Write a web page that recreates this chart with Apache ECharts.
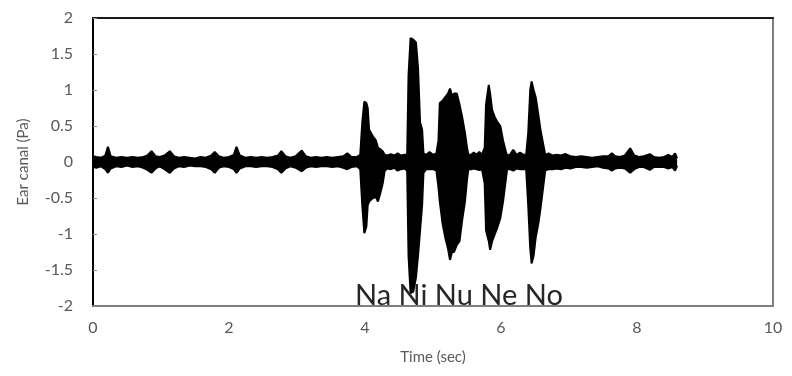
<!DOCTYPE html>
<html>
<head>
<meta charset="utf-8">
<script src="https://cdn.jsdelivr.net/npm/echarts@6/dist/echarts.min.js"></script>
<style>
html, body { margin: 0; padding: 0; background: #fff; }
#earCanal { width: 792px; height: 376px; }
</style>
</head>
<body>
<div id="earCanal"></div>
<script>
var timeSec = [
  0.00, 0.05, 0.12, 0.18, 0.22, 0.26, 0.34, 0.42, 0.50, 0.58, 0.66, 0.74, 0.80, 0.86, 0.92, 0.98,
  1.05, 1.13, 1.19, 1.26, 1.34, 1.42, 1.50, 1.58, 1.66, 1.74, 1.79, 1.85, 1.92, 2.00, 2.07, 2.11,
  2.16, 2.24, 2.32, 2.40, 2.48, 2.56, 2.64, 2.72, 2.77, 2.83, 2.90, 2.98, 3.07, 3.13, 3.20, 3.28,
  3.36, 3.44, 3.52, 3.60, 3.68, 3.74, 3.80, 3.88,
  3.93, 3.96, 3.99, 4.02, 4.04, 4.06, 4.09, 4.12, 4.16, 4.19, 4.22, 4.26, 4.29,
  4.33, 4.38, 4.43, 4.48, 4.53, 4.58,
  4.62, 4.64, 4.67, 4.71, 4.75, 4.78, 4.81, 4.84, 4.86,
  4.90, 4.95, 5.00, 5.05,
  5.08, 5.10, 5.14, 5.18, 5.22, 5.25, 5.28, 5.31, 5.35, 5.39, 5.43, 5.47, 5.50, 5.52,
  5.56, 5.60, 5.64, 5.68, 5.72,
  5.76, 5.78, 5.82, 5.84, 5.87, 5.91, 5.95, 5.99, 6.03, 6.07, 6.09,
  6.13, 6.18, 6.23, 6.28, 6.33, 6.37,
  6.40, 6.43, 6.45, 6.48, 6.51, 6.55, 6.58, 6.62, 6.65,
  6.70, 6.76, 6.82, 6.88, 6.95, 7.02, 7.10, 7.18, 7.26, 7.34, 7.42, 7.50, 7.58, 7.63, 7.68, 7.75,
  7.82, 7.90, 7.96, 8.03, 8.10, 8.19, 8.25, 8.32, 8.40, 8.46, 8.52, 8.56, 8.58, 8.59
];
var upperPa = [
  0.08, 0.07, 0.06, 0.09, 0.21, 0.08, 0.06, 0.07, 0.06, 0.07, 0.06, 0.07, 0.09, 0.15, 0.08, 0.07,
  0.09, 0.15, 0.08, 0.06, 0.07, 0.06, 0.05, 0.07, 0.06, 0.09, 0.14, 0.08, 0.06, 0.07, 0.10, 0.21,
  0.09, 0.06, 0.07, 0.06, 0.07, 0.06, 0.07, 0.09, 0.15, 0.08, 0.06, 0.08, 0.16, 0.08, 0.06, 0.07,
  0.06, 0.07, 0.06, 0.07, 0.08, 0.12, 0.07, 0.07,
  0.10, 0.55, 0.84, 0.82, 0.75, 0.45, 0.40, 0.35, 0.30, 0.20, 0.18, 0.15, 0.10,
  0.09, 0.11, 0.09, 0.12, 0.09, 0.10,
  0.10, 1.20, 1.72, 1.70, 1.66, 1.30, 0.55, 0.45, 0.12,
  0.10, 0.14, 0.10, 0.12,
  0.30, 0.82, 0.85, 0.90, 0.95, 1.02, 0.92, 0.95, 0.95, 0.80, 0.62, 0.40, 0.20, 0.10,
  0.10, 0.13, 0.10, 0.14, 0.10,
  0.20, 0.80, 1.07, 0.95, 0.72, 0.62, 0.55, 0.50, 0.30, 0.15, 0.09,
  0.10, 0.17, 0.10, 0.13, 0.10, 0.10,
  0.40, 1.00, 1.12, 1.00, 0.90, 0.65, 0.45, 0.25, 0.10,
  0.12, 0.09, 0.10, 0.09, 0.11, 0.08, 0.07, 0.08, 0.07, 0.06, 0.07, 0.08, 0.08, 0.12, 0.08, 0.07,
  0.09, 0.19, 0.09, 0.07, 0.08, 0.11, 0.07, 0.06, 0.07, 0.10, 0.07, 0.12, 0.12, 0.05
];
var lowerPa = [
  -0.07, -0.08, -0.06, -0.10, -0.15, -0.09, -0.06, -0.07, -0.05, -0.07, -0.06, -0.08, -0.11, -0.15, -0.09, -0.06,
  -0.10, -0.15, -0.09, -0.06, -0.07, -0.05, -0.06, -0.06, -0.07, -0.10, -0.15, -0.08, -0.06, -0.07, -0.10, -0.15,
  -0.09, -0.06, -0.06, -0.07, -0.06, -0.06, -0.07, -0.10, -0.15, -0.09, -0.06, -0.08, -0.13, -0.08, -0.06, -0.07,
  -0.06, -0.06, -0.07, -0.06, -0.08, -0.10, -0.07, -0.06,
  -0.10, -0.60, -0.99, -0.90, -0.60, -0.55, -0.52, -0.50, -0.48, -0.55, -0.45, -0.30, -0.12,
  -0.09, -0.10, -0.08, -0.12, -0.10, -0.09,
  -0.12, -1.30, -1.82, -1.80, -1.60, -1.30, -0.95, -0.60, -0.15,
  -0.10, -0.10, -0.10, -0.12,
  -0.35, -0.55, -0.85, -1.05, -1.20, -1.36, -1.25, -1.25, -1.15, -1.10, -0.80, -0.55, -0.25, -0.10,
  -0.10, -0.09, -0.10, -0.11, -0.10,
  -0.30, -0.95, -1.10, -1.22, -1.10, -1.00, -0.90, -0.78, -0.55, -0.25, -0.10,
  -0.10, -0.12, -0.09, -0.10, -0.10, -0.10,
  -0.60, -1.20, -1.41, -1.30, -1.05, -0.85, -0.65, -0.35, -0.12,
  -0.10, -0.10, -0.09, -0.10, -0.08, -0.09, -0.07, -0.07, -0.08, -0.07, -0.06, -0.08, -0.09, -0.12, -0.09, -0.08,
  -0.09, -0.15, -0.10, -0.07, -0.07, -0.11, -0.07, -0.07, -0.07, -0.09, -0.07, -0.12, -0.12, -0.05
];
var syllables = 'Na Ni Nu Ne No';

var upperData = [];
var lowerData = [];
for (var i = 0; i < timeSec.length; i++) {
  upperData.push([timeSec[i], upperPa[i]]);
  lowerData.push([timeSec[i], lowerPa[i]]);
}

var chart = echarts.init(document.getElementById('earCanal'));
var labelFont = 'Lato, "Open Sans", sans-serif';
var option = {
  backgroundColor: '#fff',
  animation: false,
  grid: { left: 93, right: 19, top: 18, bottom: 70 },
  title: {
    text: syllables,
    left: 350,
    top: 276,
    textStyle: { fontFamily: labelFont, fontSize: 29, fontWeight: 'normal', color: '#262626' },
    z: 10
  },
  xAxis: [{
    type: 'value',
    min: 0,
    max: 10,
    interval: 2,
    name: 'Time (sec)',
    nameLocation: 'middle',
    nameGap: 44,
    nameTextStyle: { fontFamily: labelFont, fontSize: 15, color: '#595959' },
    axisLine: { show: true, onZero: false, lineStyle: { color: '#7f7f7f', width: 2 } },
    axisTick: { show: false },
    splitLine: { show: false },
    axisLabel: { margin: 14, fontFamily: labelFont, fontSize: 16, color: '#595959' }
  }, {
    type: 'value',
    position: 'top',
    min: 0,
    max: 10,
    axisLine: { show: true, onZero: false, lineStyle: { color: '#1a1a1a', width: 2 } },
    axisTick: { show: false },
    axisLabel: { show: false },
    splitLine: { show: false }
  }],
  yAxis: [{
    type: 'value',
    min: -2,
    max: 2,
    interval: 0.5,
    name: 'Ear canal (Pa)',
    nameLocation: 'middle',
    nameRotate: 90,
    nameGap: 62,
    nameTextStyle: { fontFamily: labelFont, fontSize: 15, color: '#595959' },
    axisLine: { show: true, onZero: false, lineStyle: { color: '#000', width: 2 } },
    axisTick: { show: true, inside: true, length: 4, lineStyle: { color: '#8c8c8c' } },
    splitLine: { show: false },
    axisLabel: { margin: 20, fontFamily: labelFont, fontSize: 16, color: '#595959' }
  }, {
    type: 'value',
    position: 'right',
    min: -2,
    max: 2,
    axisLine: { show: true, onZero: false, lineStyle: { color: '#7f7f7f', width: 2 } },
    axisTick: { show: false },
    axisLabel: { show: false },
    splitLine: { show: false }
  }],
  series: [{
    name: 'upper',
    type: 'line',
    data: upperData,
    showSymbol: false,
    smooth: false,
    lineStyle: { color: '#000', width: 2 },
    areaStyle: { color: '#000', opacity: 1 }
  }, {
    name: 'lower',
    type: 'line',
    data: lowerData,
    showSymbol: false,
    smooth: false,
    lineStyle: { color: '#000', width: 2 },
    areaStyle: { color: '#000', opacity: 1 }
  }]
};
chart.setOption(option);
</script>
</body>
</html>
